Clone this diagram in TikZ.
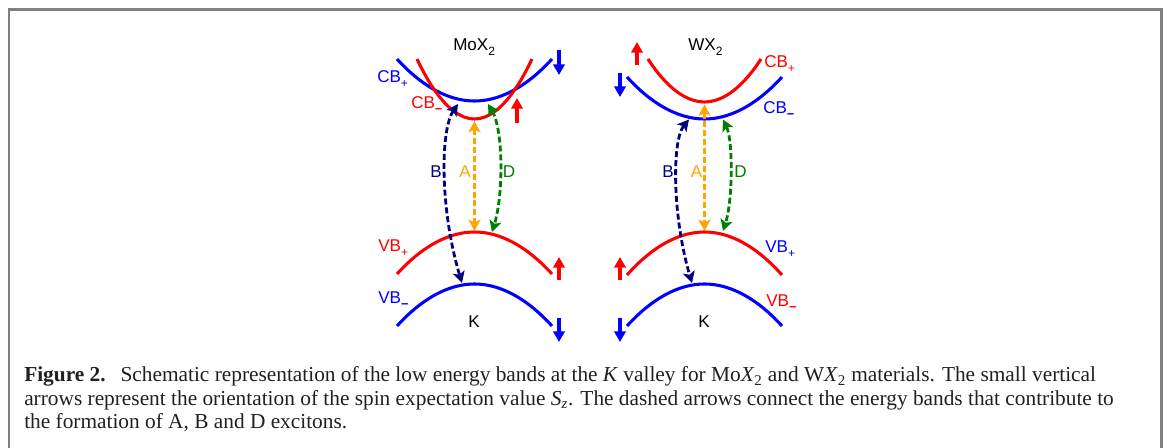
\documentclass[tikz,border=0pt]{standalone}
\usepackage{fontspec}
\setmainfont{Liberation Serif}
\newfontfamily\labfont{Liberation Sans}
\usetikzlibrary{arrows.meta}
\definecolor{bandred}{RGB}{255,0,0}
\definecolor{bandblue}{RGB}{0,0,255}
\definecolor{exA}{RGB}{255,165,0}
\definecolor{exB}{RGB}{0,0,128}
\definecolor{exD}{RGB}{0,128,0}
\definecolor{framegray}{RGB}{128,128,128}
\definecolor{captext}{RGB}{35,31,32}
\newcommand{\bandsub}[1]{\raisebox{-0.28em}{\fontsize{9}{10}\selectfont #1}}
\newcommand{\bandminus}{\raisebox{-0.28em}{\fontsize{9.5}{10}\selectfont\bfseries −}}
\begin{document}
\begin{tikzpicture}[x=0.75pt,y=-0.75pt,
  band/.style={line width=2.3pt},
  spin/.style={line width=2.6pt, -{Triangle[length=8pt,width=8.5pt]}},
  exc/.style={line width=2.1pt, dash pattern=on 4.5pt off 2.2pt,
    {Stealth[length=8.5pt,width=9pt,inset=2pt]}-{Stealth[length=8.5pt,width=9pt,inset=2pt]}},
  lbl/.style={font=\labfont\fontsize{12.8}{14}\selectfont, inner sep=0pt},
  capline/.style={font=\fontsize{16}{19}\selectfont, inner sep=0pt, anchor=base west, text=captext}
]
\useasboundingbox (0,0) rectangle (1165,448);
% frame
\coordinate (fbl) at (9,450);
\coordinate (ftl) at (9,9.5);
\coordinate (ftr) at (1161.5,9.5);
\coordinate (fbr) at (1161.5,450);
\draw[framegray, line width=1.9pt] (fbl) -- (ftl) -- (ftr) -- (fbr);

% ---------- MoX2 panel ----------
\coordinate (mcbpL) at (397,59);  \coordinate (mcbpV) at (474.5,101); \coordinate (mcbpR) at (552,59);
\coordinate (mcbmL) at (417,59);  \coordinate (mcbmV) at (474.5,119); \coordinate (mcbmR) at (532,59);
\coordinate (mvbpL) at (397,274); \coordinate (mvbpV) at (474.5,232); \coordinate (mvbpR) at (552,274);
\coordinate (mvbmL) at (397,326); \coordinate (mvbmV) at (474.5,284); \coordinate (mvbmR) at (552,326);
\draw[band, bandblue] (mcbpL) parabola bend (mcbpV) (mcbpR);
\draw[band, bandred]  (mcbmL) parabola bend (mcbmV) (mcbmR);
\draw[band, bandred]  (mvbpL) parabola bend (mvbpV) (mvbpR);
\draw[band, bandblue] (mvbmL) parabola bend (mvbmV) (mvbmR);

\coordinate (mAt) at (474.5,121); \coordinate (mAb) at (474.5,231);
\coordinate (mBt) at (458,104);   \coordinate (mBb) at (462,283);
\coordinate (mDt) at (488,104);   \coordinate (mDb) at (492,232);
\draw[exc, exA] (mAt) -- (mAb);
\draw[exc, exB] (mBt) .. controls (440,130) and (440,210) .. (mBb);
\draw[exc, exD] (mDt) .. controls (503.5,130) and (503.5,195) .. (mDb);

\coordinate (ms1a) at (559,50);  \coordinate (ms1b) at (559,75);
\coordinate (ms2a) at (517,123); \coordinate (ms2b) at (517,98);
\coordinate (ms3a) at (559,280); \coordinate (ms3b) at (559,257);
\coordinate (ms4a) at (559,318); \coordinate (ms4b) at (559,342);
\draw[spin, bandblue] (ms1a) -- (ms1b);
\draw[spin, bandred]  (ms2a) -- (ms2b);
\draw[spin, bandred]  (ms3a) -- (ms3b);
\draw[spin, bandblue] (ms4a) -- (ms4b);

\node[lbl, anchor=base west] (mtitle) at (453,51) {MoX\bandsub{2}};
\node[lbl, anchor=base west, text=bandblue] (mCBp) at (377,83) {CB\bandsub{+}};
\node[lbl, anchor=base west, text=bandred]  (mCBm) at (411,109) {CB\bandminus};
\node[lbl, anchor=base west, text=bandred]  (mVBp) at (378,252) {VB\bandsub{+}};
\node[lbl, anchor=base west, text=bandblue] (mVBm) at (378,304) {VB\bandminus};
\node[lbl, anchor=base] (mK) at (474,328) {K};
\node[lbl, anchor=base, text=exA] (mA) at (465,178) {A};
\node[lbl, anchor=base, text=exB] (mB) at (436,178) {B};
\node[lbl, anchor=base, text=exD] (mD) at (509,178) {D};

% ---------- WX2 panel ----------
\coordinate (wcbpL) at (648,59);  \coordinate (wcbpV) at (704.5,102); \coordinate (wcbpR) at (761,59);
\coordinate (wcbmL) at (627,77);  \coordinate (wcbmV) at (704.5,119); \coordinate (wcbmR) at (782,77);
\coordinate (wvbpL) at (627,275); \coordinate (wvbpV) at (704.5,232); \coordinate (wvbpR) at (782,275);
\coordinate (wvbmL) at (627,326); \coordinate (wvbmV) at (704.5,284); \coordinate (wvbmR) at (782,326);
\draw[band, bandred]  (wcbpL) parabola bend (wcbpV) (wcbpR);
\draw[band, bandblue] (wcbmL) parabola bend (wcbmV) (wcbmR);
\draw[band, bandred]  (wvbpL) parabola bend (wvbpV) (wvbpR);
\draw[band, bandblue] (wvbmL) parabola bend (wvbmV) (wvbmR);

\coordinate (wAt) at (704.5,104.5); \coordinate (wAb) at (704.5,231);
\coordinate (wBt) at (689,119.5);   \coordinate (wBb) at (692,283);
\coordinate (wDt) at (723,119.5);   \coordinate (wDb) at (723,231);
\draw[exc, exA] (wAt) -- (wAb);
\draw[exc, exB] (wBt) .. controls (672,140) and (672,215) .. (wBb);
\draw[exc, exD] (wDt) .. controls (733,140) and (733,200) .. (wDb);

\coordinate (ws1a) at (637,65);  \coordinate (ws1b) at (637,42);
\coordinate (ws2a) at (620,73);  \coordinate (ws2b) at (620,97);
\coordinate (ws3a) at (620,280); \coordinate (ws3b) at (620,257);
\coordinate (ws4a) at (620,318); \coordinate (ws4b) at (620,342);
\draw[spin, bandred]  (ws1a) -- (ws1b);
\draw[spin, bandblue] (ws2a) -- (ws2b);
\draw[spin, bandred]  (ws3a) -- (ws3b);
\draw[spin, bandblue] (ws4a) -- (ws4b);

\node[lbl, anchor=base west] (wtitle) at (688,51) {WX\bandsub{2}};
\node[lbl, anchor=base west, text=bandred]  (wCBp) at (764,68) {CB\bandsub{+}};
\node[lbl, anchor=base west, text=bandblue] (wCBm) at (763,114) {CB\bandminus};
\node[lbl, anchor=base west, text=bandblue] (wVBp) at (765,253) {VB\bandsub{+}};
\node[lbl, anchor=base west, text=bandred]  (wVBm) at (766,307) {VB\bandminus};
\node[lbl, anchor=base] (wK) at (704,328) {K};
\node[lbl, anchor=base, text=exA] (wA) at (696.5,178) {A};
\node[lbl, anchor=base, text=exB] (wB) at (668,178) {B};
\node[lbl, anchor=base, text=exD] (wD) at (740.5,178) {D};

% ---------- caption ----------
\node[capline] (cap1) at (24,382) {\textbf{Figure 2.}\hspace{0.7em}Schematic representation of the low energy bands at the \textit{K} valley for Mo\textit{X}\textsubscript{2} and W\textit{X}\textsubscript{2} materials. The small vertical};
\node[capline] (cap2) at (24,405.5) {arrows represent the orientation of the spin expectation value \textit{S\textsubscript{z}}. The dashed arrows connect the energy bands that contribute to};
\node[capline] (cap3) at (24,429) {the formation of A, B and D excitons.};
\end{tikzpicture}
\end{document}
